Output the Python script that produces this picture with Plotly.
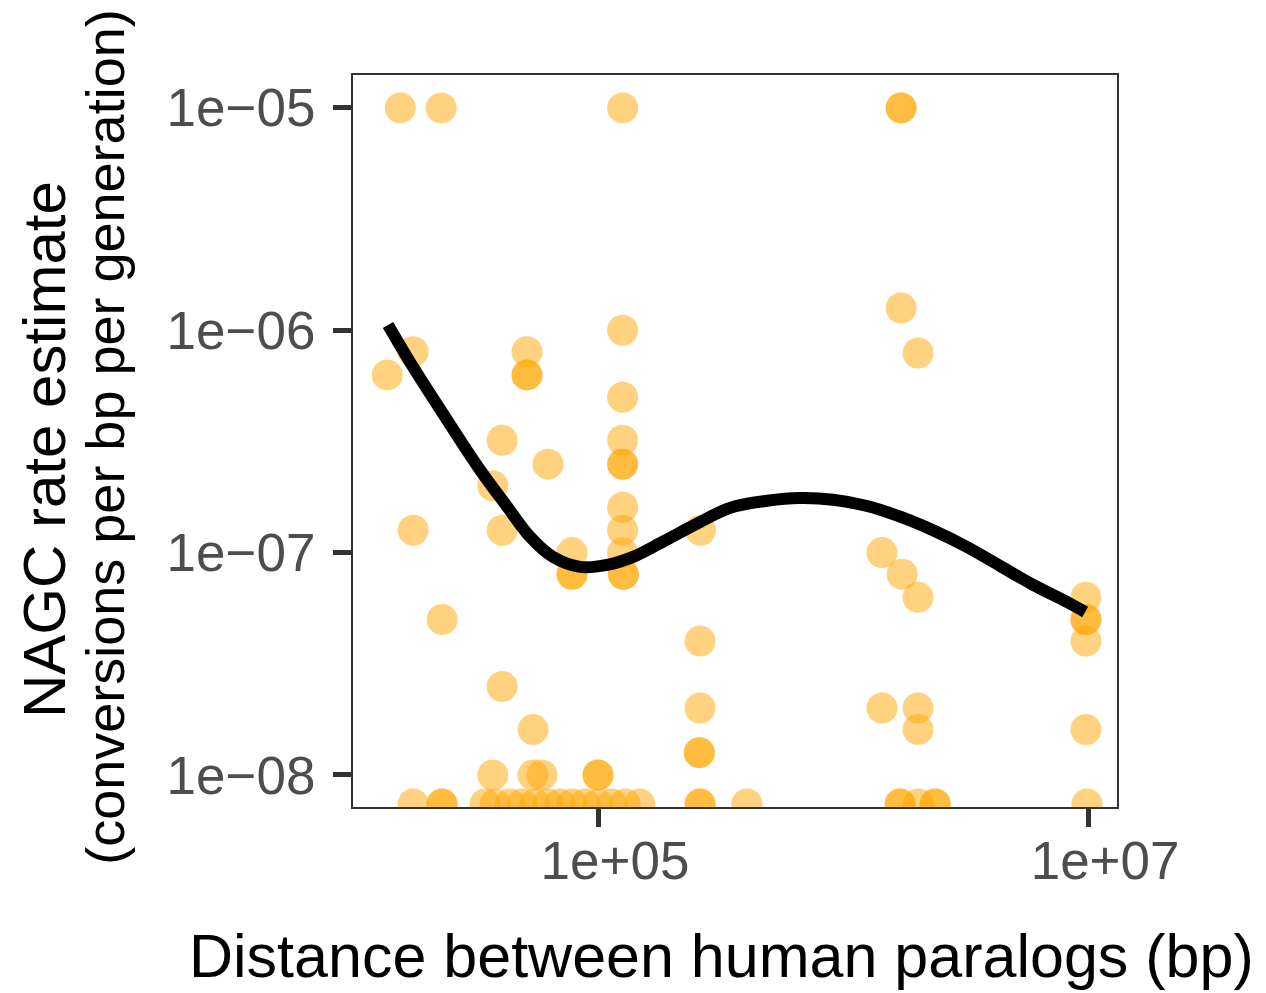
import plotly.graph_objects as go

# ---- data ----
distance_bp = [
    15600, 22900, 126000, 1726000, 1726000, 1726000, 2023000, 13800, 17600,
    51300, 51300, 51300, 126000, 126000, 126000, 126000, 126000, 126000,
    126000, 126000, 127000, 127000, 40600, 62500, 37200, 40600, 17600,
    78300, 78300, 78300, 262000, 23100, 40600, 54300, 37200, 54300, 59000,
    100000, 100000, 261000, 261000, 259000, 259000, 1442000, 2023000,
    2023000, 1442000, 1742000, 2023000, 9800000, 9800000, 9800000, 9800000,
    9800000,
    # points sitting on the lower edge of the panel
    17600, 23100, 23100, 34600, 38000, 43700, 49000, 55300, 62500, 70000,
    78300, 88500, 100000, 114000, 129000, 148000, 261000, 261000, 405000,
    1710000, 1710000, 2023000, 2377000, 2377000, 9900000,
]
nagc_rate = [
    1e-5, 1e-5, 1e-5, 1e-5, 1e-5, 1.26e-6, 7.9e-7, 6.3e-7, 8e-7,
    8e-7, 6.3e-7, 6.3e-7, 1e-6, 5e-7, 3.2e-7, 2.5e-7, 2.5e-7, 1.6e-7,
    1.26e-7, 1e-7, 8e-8, 8e-8, 3.2e-7, 2.5e-7, 2e-7, 1.26e-7, 1.26e-7,
    1e-7, 8e-8, 8e-8, 1.26e-7, 5e-8, 2.5e-8, 1.6e-8, 1e-8, 1e-8, 1e-8,
    1e-8, 1e-8, 4e-8, 2e-8, 1.26e-8, 1.26e-8, 2e-8, 2e-8,
    1.6e-8, 1e-7, 8e-8, 6.3e-8, 6.3e-8, 5e-8, 5e-8, 4e-8,
    1.6e-8,
    7.4e-9, 7.4e-9, 7.4e-9, 7.4e-9, 7.4e-9, 7.4e-9, 7.4e-9, 7.4e-9, 7.4e-9, 7.4e-9,
    7.4e-9, 7.4e-9, 7.4e-9, 7.4e-9, 7.4e-9, 7.4e-9, 7.4e-9, 7.4e-9, 7.4e-9,
    7.4e-9, 7.4e-9, 7.4e-9, 7.4e-9, 7.4e-9, 7.4e-9,
]

# smoothed trend (loess-like)
smooth_distance_bp = [
    13900, 17580, 24210, 32960, 42560, 52720, 65460, 84530, 108900, 139000,
    184100, 253500, 345900, 489800, 666800, 909900, 1253000, 1710000,
    2328000, 3206000, 4375000, 5970000, 8204000, 9727000,
]
smooth_rate = [
    1.057e-6, 6.84e-7, 3.95e-7, 2.36e-7, 1.61e-7, 1.18e-7, 9.57e-8, 8.63e-8,
    8.81e-8, 9.57e-8, 1.12e-7, 1.35e-7, 1.59e-7, 1.71e-7, 1.76e-7, 1.73e-7,
    1.62e-7, 1.45e-7, 1.26e-7, 1.06e-7, 8.71e-8, 7.16e-8, 6.00e-8, 5.41e-8,
]

x_tick_vals = [1e5, 1e7]
x_tick_text = ["1e+05", "1e+07"]
y_tick_vals = [1e-8, 1e-7, 1e-6, 1e-5]
y_tick_text = ["1e\u221208", "1e\u221207", "1e\u221206", "1e\u221205"]

FONT = "Liberation Sans, Arial, sans-serif"

fig = go.Figure()
fig.add_trace(go.Scatter(
    x=distance_bp, y=nagc_rate, mode="markers",
    marker=dict(size=31, color="rgba(255,165,0,0.5)", line=dict(width=0)),
    cliponaxis=True, showlegend=False, hoverinfo="skip",
))
fig.add_trace(go.Scatter(
    x=smooth_distance_bp, y=smooth_rate, mode="lines",
    line=dict(color="black", width=12, shape="spline", smoothing=1.0),
    showlegend=False, hoverinfo="skip",
))

axis_common = dict(
    showgrid=False, zeroline=False, showline=True, mirror=True,
    linecolor="#333333", linewidth=2, ticks="outside", ticklen=18,
    tickwidth=5, tickcolor="#333333",
    tickfont=dict(family=FONT, size=53, color="#4D4D4D"),
)
fig.update_xaxes(type="log", range=[4.0, 7.118], tickvals=x_tick_vals,
                 ticktext=x_tick_text, ticklabelshift=17, ticklabelstandoff=-12,
                 **axis_common)
fig.update_yaxes(type="log", range=[-8.144, -4.852], tickvals=y_tick_vals,
                 ticktext=y_tick_text, ticklabelstandoff=7, **axis_common)

fig.update_layout(
    width=1266, height=993,
    margin=dict(l=353, r=149, t=75, b=186, pad=0),
    paper_bgcolor="white", plot_bgcolor="white",
    annotations=[
        dict(text="Distance between human paralogs (bp)", xref="paper", yref="paper",
             x=0.4817, y=-0.203, xanchor="center", yanchor="middle", showarrow=False,
             font=dict(family=FONT, size=61, color="black")),
        dict(text="NAGC rate estimate", xref="paper", yref="paper",
             x=-0.4045, y=0.489, xanchor="center", yanchor="middle", showarrow=False,
             textangle=-90, font=dict(family=FONT, size=60, color="black")),
        dict(text="(conversions per bp per generation)", xref="paper", yref="paper",
             x=-0.324, y=0.505, xanchor="center", yanchor="middle", showarrow=False,
             textangle=-90, font=dict(family=FONT, size=54, color="black")),
    ],
)

fig.write_html("out.html")
